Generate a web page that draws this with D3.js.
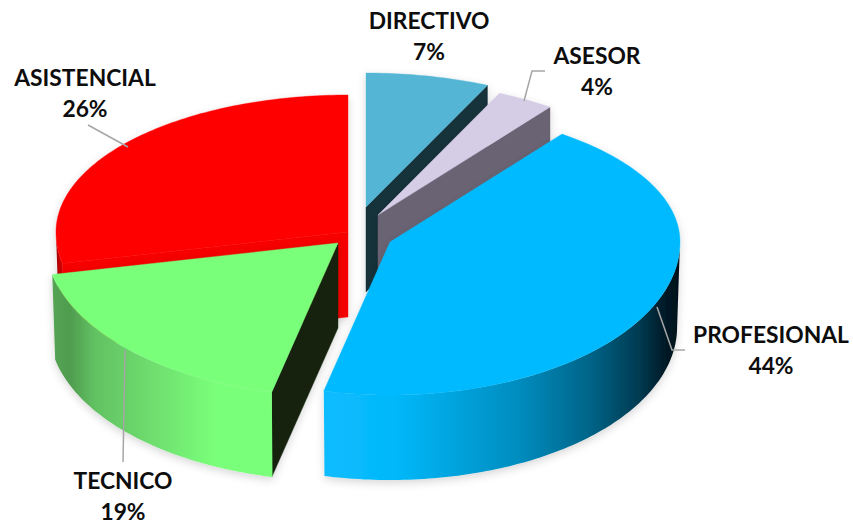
<!DOCTYPE html>
<html><head><meta charset="utf-8">
<script src="https://cdnjs.cloudflare.com/ajax/libs/d3/7.8.5/d3.min.js"></script>
<style>html,body{margin:0;padding:0;background:#fff}svg{display:block}</style>
</head><body><div id="chart"></div>
<script>
const categories = ["DIRECTIVO","ASESOR","PROFESIONAL","TECNICO","ASISTENCIAL"];
const values = [7,4,44,19,26];

const W=853,H=525,RX=290,RX_LEFT=292,RY_BACK=134,RY_FRONT=153,DEPTH=85,BOTTOM_SHRINK=0.99;
const style = {
  DIRECTIVO:{c:[366,207],top:"#54b5d4",wall:"#14303a",label:[429,21],line:null},
  ASESOR:{c:[378,215],top:"#d5cce6",wall:"#6b6373",label:[597,56],line:[[524,101],[532,71],[545,71]]},
  PROFESIONAL:{c:[390,242],top:"#05baff",wall:"#004",label:[771,335],line:[[657,307],[672,350],[685,350]],
    grad:[[322,"#0abcff"],[395,"#04b8fa"],[450,"#00a5e0"],[520,"#008cbe"],[590,"#006488"],[640,"#003a50"],[665,"#001a26"],[680,"#000f18"]]},
  TECNICO:{c:[338,243],top:"#7aff7a",wall:"#13240f",label:[123,481],line:[[125,350],[123,462]],
    grad:[[51,"#55a455"],[70,"#4f9c4f"],[95,"#62c262"],[150,"#6edc6e"],[215,"#7aff7a"],[270,"#7aff7a"]]},
  ASISTENCIAL:{c:[348,232],ryBack:137,top:"#ff0000",wall:"#f60000",label:[85,78],line:[[88,125],[128,147]],
    grad:[[56,"#a00000"],[62,"#d80000"],[70,"#f00000"]]}
};
const drawOrder = ["ASISTENCIAL","DIRECTIVO","ASESOR","TECNICO","PROFESIONAL"];

// perspective: pie angle (deg) to on-screen ellipse angle (deg)
const warp = d3.scaleLinear().domain([0,25,40,90,180,270,360]).range([0,24.6,36.7,86,176,261.5,360]);
const deg = r => r*180/Math.PI;
const rad = d => d*Math.PI/180;

const pie = d3.pie().sort(null).value(d=>d.v).startAngle(0).endAngle(2*Math.PI);
const arcs = pie(categories.map((n,i)=>({n,v:values[i]})));

function rim(c,t,dy=0,sx=1,ryBack=RY_BACK){
  const a=rad(t), s=Math.sin(a), k=Math.cos(a);
  return [c[0]+sx*(s<0?RX_LEFT:RX)*s, c[1]+dy-k*(k>=0?ryBack:RY_FRONT)];
}
function sample(a,b){
  const n=Math.max(2,Math.ceil(Math.abs(b-a)));
  return d3.range(n+1).map(i=>a+(b-a)*i/n);
}
const line=d3.line();
const svg=d3.select("#chart").append("svg").attr("width",W).attr("height",H);
const defs=svg.append("defs");
const f=defs.append("filter").attr("id","shadow").attr("x","-10%").attr("y","-10%").attr("width","120%").attr("height","125%");
f.append("feDropShadow").attr("dx",0).attr("dy",3).attr("stdDeviation",4).attr("flood-color","#000").attr("flood-opacity",0.16);

Object.entries(style).forEach(([n,s])=>{
  if(!s.grad)return;
  const x0=s.grad[0][0],x1=s.grad[s.grad.length-1][0];
  const g=defs.append("linearGradient").attr("id","g"+n).attr("gradientUnits","userSpaceOnUse")
    .attr("x1",x0).attr("x2",x1).attr("y1",0).attr("y2",0);
  s.grad.forEach(([x,col])=>g.append("stop").attr("offset",(x-x0)/(x1-x0)).attr("stop-color",col));
});

drawOrder.forEach(name=>{
  const d=arcs.find(a=>a.data.n===name), s=style[name], c=s.c, ryB=s.ryBack||RY_BACK;
  const a0=warp(deg(d.startAngle)), a1=warp(deg(d.endAngle));
  const g=svg.append("g").attr("filter","url(#shadow)");
  const wall=(t)=>{
    const p=rim(c,t,0,1,ryB),q=rim(c,t,DEPTH,1,ryB);
    g.append("path").attr("fill",s.wall).attr("stroke",s.wall).attr("stroke-width",.4)
      .attr("d",line([c,p,q,[c[0],c[1]+DEPTH]])+"Z");
  };
  if(Math.sin(rad(a0))<-1e-6) wall(a0);
  if(Math.sin(rad(a1))>1e-6) wall(a1);
  const v0=Math.max(a0,90),v1=Math.min(a1,270);
  if(v1>v0){
    const topPts=sample(v0,v1).map(t=>rim(c,t,0,1,ryB));
    const botPts=sample(v1,v0).map(t=>rim(c,t,DEPTH,BOTTOM_SHRINK,ryB));
    g.append("path").attr("fill","url(#g"+name+")").attr("d",line(topPts.concat(botPts))+"Z");
  }
  g.append("path").attr("fill",s.top).attr("stroke",s.top).attr("stroke-width",.4)
    .attr("d",line([c].concat(sample(a0,a1).map(t=>rim(c,t,0,1,ryB))))+"Z");
});

categories.forEach((n,i)=>{
  const s=style[n];
  if(s.line) svg.append("path").attr("fill","none").attr("stroke","#a6a6a6").attr("stroke-width",1.5).attr("d",line(s.line));
  const t=svg.append("text").attr("text-anchor","middle").attr("font-family","Lato, 'Open Sans', sans-serif")
    .attr("font-weight",700).attr("font-size",22.8).attr("fill","#0d0d0d");
  t.append("tspan").attr("x",s.label[0]).attr("y",s.label[1]+8).text(n);
  t.append("tspan").attr("x",s.label[0]).attr("y",s.label[1]+39).text(values[i]+"%");
});
</script></body></html>
